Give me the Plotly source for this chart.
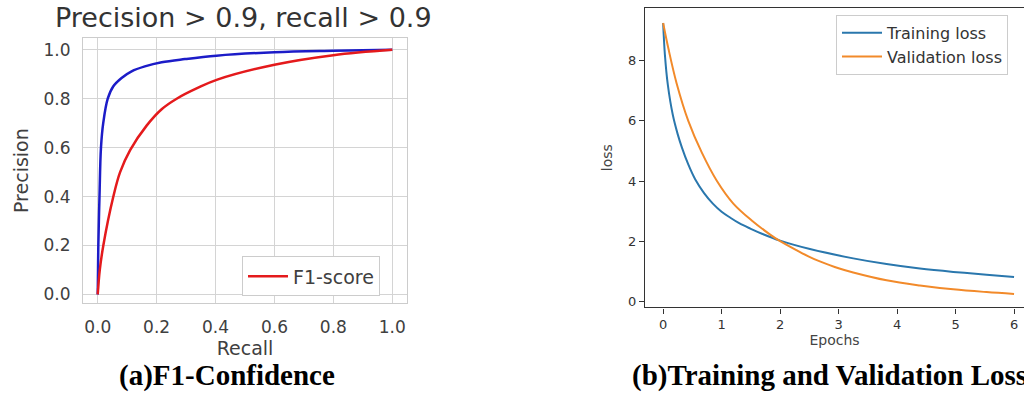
import plotly.graph_objects as go

W, H = 1024, 394

# ---- data (a) precision-recall ----
blue_recall = [0, 0.001, 0.002, 0.006, 0.011, 0.019, 0.034, 0.053, 0.081, 0.115, 0.16, 0.217, 0.296, 0.403, 0.6, 0.8, 1.0]
blue_precision = [0, 0.1, 0.2, 0.4, 0.6, 0.703, 0.8, 0.851, 0.885, 0.912, 0.932, 0.949, 0.962, 0.976, 0.99, 0.996, 1.0]
red_recall = [0, 0.007, 0.019, 0.053, 0.076, 0.11, 0.166, 0.217, 0.268, 0.341, 0.406, 0.6, 0.8, 1.0]
red_precision = [0, 0.1, 0.2, 0.4, 0.5, 0.59, 0.69, 0.757, 0.8, 0.845, 0.878, 0.939, 0.978, 1.0]
pr_ticks = [0.0, 0.2, 0.4, 0.6, 0.8, 1.0]

# ---- data (b) loss ----
train_epochs = [0, 0.03, 0.08, 0.165, 0.25, 0.32, 0.43, 0.55, 0.7, 0.85, 1.0, 1.15, 1.3, 1.49, 1.7, 2.0, 2.51, 3.25, 3.82, 4.39, 4.96, 5.53, 6.0]
train_loss = [9.25, 8.2, 7.2, 6.2, 5.55, 5.12, 4.55, 4.05, 3.6, 3.25, 2.98, 2.78, 2.6, 2.42, 2.24, 2.02, 1.74, 1.43, 1.24, 1.09, 0.98, 0.89, 0.81]
val_epochs = [0, 0.09, 0.23, 0.43, 0.66, 0.92, 1.2, 1.52, 1.83, 2.0, 2.3, 2.51, 2.68, 3.0, 3.25, 3.82, 4.39, 4.96, 5.53, 6.0]
val_loss = [9.25, 8.4, 7.25, 6.0, 4.95, 4.0, 3.25, 2.68, 2.22, 2.0, 1.68, 1.47, 1.33, 1.1, 0.96, 0.7, 0.53, 0.40, 0.31, 0.25]
epoch_ticks = [0, 1, 2, 3, 4, 5, 6]
loss_ticks = [0, 2, 4, 6, 8]

SANS = "DejaVu Sans"
SERIF = "Liberation Serif, Times New Roman, serif"

fig = go.Figure()

fig.add_trace(go.Scatter(x=blue_recall, y=blue_precision, mode="lines",
                         line=dict(color="#1c1cc8", width=2.5, shape="spline", smoothing=1.0),
                         showlegend=False, xaxis="x", yaxis="y"))
fig.add_trace(go.Scatter(x=red_recall, y=red_precision, mode="lines", name="F1-score",
                         line=dict(color="#e41a1c", width=2.5, shape="spline", smoothing=1.0),
                         legend="legend", xaxis="x", yaxis="y"))

fig.add_trace(go.Scatter(x=train_epochs, y=train_loss, mode="lines", name="Training loss",
                         line=dict(color="#2a77ad", width=2, shape="spline", smoothing=1.0),
                         legend="legend2", xaxis="x2", yaxis="y2"))
fig.add_trace(go.Scatter(x=val_epochs, y=val_loss, mode="lines", name="Validation loss",
                         line=dict(color="#f28a2a", width=2, shape="spline", smoothing=1.0),
                         legend="legend2", xaxis="x2", yaxis="y2"))

def px_x(p):
    return p / W

def px_y(p):
    return 1 - p / H

fig.update_layout(
    width=W, height=H,
    margin=dict(l=0, r=0, t=0, b=0),
    paper_bgcolor="white", plot_bgcolor="white",
    font=dict(family=SANS, color="#333333"),
    xaxis=dict(domain=[px_x(83), px_x(407)], range=[-0.05, 1.05], anchor="y",
               tickvals=pr_ticks, tickformat=".1f",
               showgrid=True, gridcolor="#d4d4d4", gridwidth=1, zeroline=False,
               showline=True, linecolor="#cccccc", linewidth=1.2, mirror=True,
               ticks="", ticklabelstandoff=8,
               tickfont=dict(size=17, color="#404040"),
               title=dict(text="Recall", font=dict(size=19, color="#404040"), standoff=3)),
    yaxis=dict(domain=[px_y(305), px_y(38)], range=[-0.037, 1.049], anchor="x",
               tickvals=pr_ticks, tickformat=".1f",
               showgrid=True, gridcolor="#d4d4d4", gridwidth=1, zeroline=False,
               showline=True, linecolor="#cccccc", linewidth=1.2, mirror=True,
               ticks="", ticklabelstandoff=8,
               tickfont=dict(size=17, color="#404040"),
               title=dict(text="Precision", font=dict(size=19, color="#404040"), standoff=9)),
    xaxis2=dict(domain=[px_x(645), 1.0], range=[-0.31, 6.17], anchor="y2",
                tickvals=epoch_ticks, showgrid=False, zeroline=False,
                showline=True, linecolor="#333333", linewidth=1.2, mirror=True,
                ticks="outside", ticklen=5, tickcolor="#333333",
                tickfont=dict(size=13, color="#333333"),
                title=dict(text="Epochs", font=dict(size=14, color="#444444"), standoff=2)),
    yaxis2=dict(domain=[px_y(309), px_y(8)], range=[-0.2, 9.75], anchor="x2",
                tickvals=loss_ticks, showgrid=False, zeroline=False,
                showline=True, linecolor="#333333", linewidth=1.2,
                ticks="outside", ticklen=5, tickcolor="#333333",
                tickfont=dict(size=13, color="#333333"),
                title=dict(text="loss", font=dict(size=14, color="#444444"), standoff=12)),
    legend=dict(x=px_x(242), y=px_y(298), xanchor="left", yanchor="bottom",
                bgcolor="white", bordercolor="#cccccc", borderwidth=1,
                font=dict(size=19, color="#404040"), itemwidth=40),
    legend2=dict(x=px_x(836), y=px_y(15), xanchor="left", yanchor="top",
                 bgcolor="white", bordercolor="#cccccc", borderwidth=1,
                 font=dict(size=16, color="#333333"), itemwidth=40, tracegroupgap=0),
    annotations=[
        dict(text="Precision > 0.9, recall > 0.9", xref="paper", yref="paper",
             x=px_x(243), y=px_y(18), xanchor="center", yanchor="middle", showarrow=False,
             font=dict(family=SANS, size=27, color="#333333")),
        dict(text="<b>(a)F1-Confidence</b>", xref="paper", yref="paper",
             x=px_x(227), y=px_y(377), xanchor="center", yanchor="middle", showarrow=False,
             font=dict(family=SERIF, size=29, color="black")),
        dict(text="<b>(b)Training and Validation Loss</b>", xref="paper", yref="paper",
             x=px_x(630), y=px_y(377), xanchor="left", yanchor="middle", showarrow=False,
             font=dict(family=SERIF, size=29, color="black")),
    ],
)

fig.write_html("out.html", config={"displayModeBar": False},
               post_script="document.body.style.margin='0';")
